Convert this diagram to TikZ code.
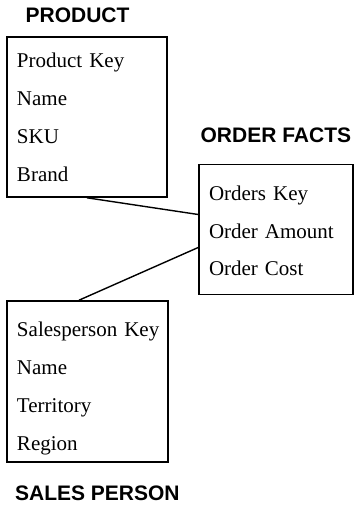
\documentclass[tikz,border=0pt]{standalone}
\usepackage{fontspec}
\setmainfont{Liberation Serif}
\setsansfont{Liberation Sans}
\usepackage{tikz}
\usetikzlibrary{positioning,calc}
\tikzset{
  tbl/.style={draw=black, line width=0.8pt, inner xsep=5pt, align=left, font=\fontsize{10.5}{19}\selectfont},
  ttl/.style={inner sep=0pt, font=\sffamily\bfseries\fontsize{10.5}{12}\selectfont},
  lnk/.style={draw=black, line width=0.7pt},
}

\begin{document}
\begin{tikzpicture}[x=0.5pt, y=-0.5pt]
  \useasboundingbox (0,0) rectangle (354,507);
  \node[tbl, minimum width=80pt, minimum height=80pt, text width=70pt] (product) at (87,117)
    {Product~Key\\Name\\SKU\\Brand};
  \node[tbl, minimum width=77pt, minimum height=65pt, text width=67pt,
        font=\fontsize{10.5}{18.75}\selectfont] (orders) at (276,229.5)
    {\rule{0pt}{9pt}Orders~Key\\Order~Amount\\Order~Cost};
  \node[tbl, minimum width=80.5pt, minimum height=80.5pt, text width=70.5pt] (sales) at (87.5,381.5)
    {\rule{0pt}{14pt}Salesperson~Key\\Name\\Territory\\Region};
  \node[ttl, anchor=base west] (producttitle) at ([shift={(9.5pt,7pt)}]product.north west) {PRODUCT};
  \node[ttl, anchor=base west] (orderstitle) at ([shift={(1pt,10.5pt)}]orders.north west) {ORDER FACTS};
  \node[ttl, anchor=base west] (salestitle) at ([shift={(4.25pt,-19pt)}]sales.south west) {SALES PERSON};
  \draw[lnk] (product.south) -- ([yshift=7.5pt]orders.west);
  \draw[lnk] ([yshift=-9pt]orders.west) -- ([xshift=-4.25pt]sales.north);
\end{tikzpicture}
\end{document}
